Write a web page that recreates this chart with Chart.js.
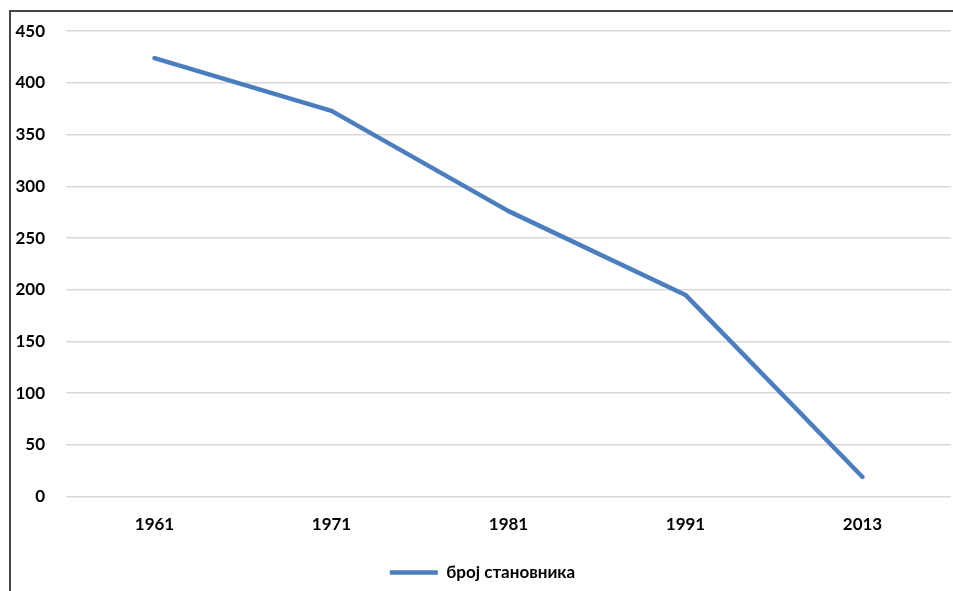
<!DOCTYPE html>
<html>
<head>
<meta charset="utf-8">
<script src="https://cdn.jsdelivr.net/npm/chart.js@4.4.0/dist/chart.umd.min.js"></script>
<style>
  html, body { margin: 0; padding: 0; background: #fff; }
  #wrap { position: relative; width: 953px; height: 591px; }
  #frame { position: absolute; left: 9px; top: 10px; right: 0; bottom: 0;
           border-left: 2px solid #444; border-top: 2px solid #444; pointer-events: none; }
</style>
</head>
<body>
<div id="wrap">
  <canvas id="popChart" width="953" height="591"></canvas>
  <div id="frame"></div>
</div>
<script>
var years = ['1961', '1971', '1981', '1991', '2013'];
var population = [424, 373, 276, 195, 19];
var yTicks = [0, 50, 100, 150, 200, 250, 300, 350, 400, 450];

var ctx = document.getElementById('popChart').getContext('2d');

var popChart = new Chart(ctx, {
    type: 'line',
    data: {
        labels: years,
        datasets: [{
            label: 'број становника',
            data: population,
            borderColor: '#4a7ebf',
            backgroundColor: '#4a7ebf',
            borderWidth: 4.5,
            borderCapStyle: 'round',
            borderJoinStyle: 'round',
            pointRadius: 0,
            tension: 0
        }]
    },
    options: {
        responsive: false,
        animation: false,
        layout: {
            padding: { top: 31, bottom: 0, left: 14, right: 2 }
        },
        plugins: {
            tooltip: { enabled: false },
            legend: {
                position: 'bottom',
                labels: {
                    usePointStyle: true,
                    pointStyle: 'line',
                    pointStyleWidth: 48,
                    color: '#000',
                    font: { family: 'Lato', weight: 'bold', size: 17 },
                    padding: 11
                }
            }
        },
        scales: {
            x: {
                offset: true,
                grid: { display: false, drawTicks: false },
                border: { display: false },
                ticks: {
                    color: '#000',
                    padding: 18,
                    font: { family: 'Lato', weight: 'bold', size: 17 }
                }
            },
            y: {
                min: 0,
                max: 450,
                afterFit: function (s) { s.width = 52; },
                afterBuildTicks: function (s) {
                    s.ticks = yTicks.map(function (v) { return { value: v }; });
                },
                grid: { color: '#d9d9d9', lineWidth: 1.5, drawTicks: false },
                border: { display: false },
                ticks: {
                    color: '#000',
                    padding: 21,
                    font: { family: 'Lato', weight: 'bold', size: 17 }
                }
            }
        }
    }
});
</script>
</body>
</html>
